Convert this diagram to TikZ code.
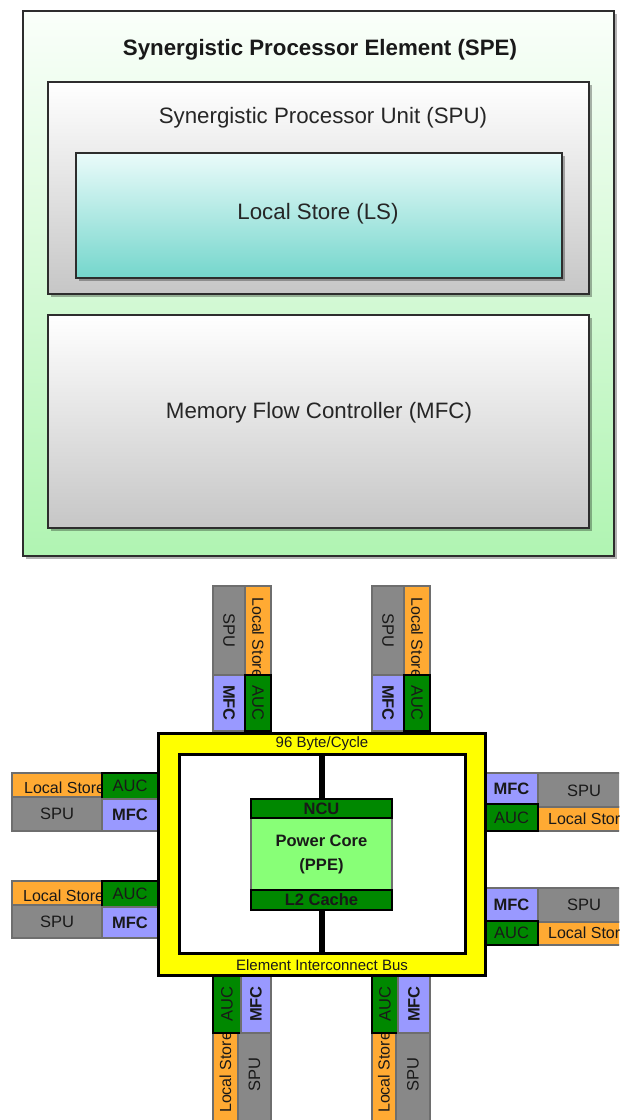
\documentclass[tikz,border=0pt]{standalone}
\usepackage{fontspec}
\setmainfont{Liberation Sans}
\usetikzlibrary{shadows}
\definecolor{cgray}{RGB}{136,136,136}
\definecolor{cgrayline}{RGB}{110,110,110}
\definecolor{corange}{RGB}{255,170,51}
\definecolor{clav}{RGB}{153,153,255}
\definecolor{cdkgreen}{RGB}{0,136,0}
\definecolor{cltgreen}{RGB}{136,255,119}
\definecolor{cyel}{RGB}{255,255,0}
\definecolor{spetop}{RGB}{250,255,250}
\definecolor{spebot}{RGB}{176,244,178}
\definecolor{spubot}{RGB}{198,198,198}
\definecolor{lstop}{RGB}{234,251,250}
\definecolor{lsbot}{RGB}{116,214,204}
\definecolor{bordr}{RGB}{45,45,45}
\newcommand{\cellbox}[6]{\node[#6, anchor=north west, inner sep=0pt, outer sep=0pt, minimum width={(#4-#2)*1pt}, minimum height={(#5-#3)*1pt}] (#1) at (#2,#3) {};}
\tikzset{
  shad/.style={drop shadow={shadow xshift=2.5pt, shadow yshift=-2.5pt, fill=black, opacity=0.3}},
  spebox/.style={draw=bordr, line width=1.4pt, top color=spetop, bottom color=spebot, shad},
  spubox/.style={draw=bordr, line width=1.4pt, top color=white, bottom color=spubot, shad},
  lsbox/.style={draw=bordr, line width=1.4pt, top color=lstop, bottom color=lsbot, shad},
  bigtxt/.style={font=\fontsize{22.3}{26}\selectfont, inner sep=0pt, text=black!85},
  bigbold/.style={font=\bfseries\fontsize{22.3}{26}\selectfont, inner sep=0pt, text=black!90},
  spucell/.style={draw=cgrayline, line width=1.5pt, fill=cgray},
  lscell/.style={draw=cgrayline, line width=1.5pt, fill=corange},
  mfccell/.style={draw=cgrayline, line width=1.5pt, fill=clav},
  auccell/.style={draw=black, line width=2pt, fill=cdkgreen},
  ncucell/.style={draw=black, line width=2.5pt, fill=cdkgreen},
  ppecell/.style={draw=cgrayline, line width=1.5pt, fill=cltgreen},
  modtxt/.style={font=\fontsize{16.5}{19}\selectfont, inner sep=0pt, text=black!90},
  modbold/.style={font=\bfseries\fontsize{16.5}{19}\selectfont, inner sep=0pt, text=black!90},
  lstxt/.style={font=\fontsize{16}{18}\selectfont, inner sep=0pt, text=black!90},
  bustxt/.style={font=\fontsize{15}{17}\selectfont, inner sep=0pt, text=black!90},
  bar/.style={line width=6pt, black}
}
\begin{document}
\begin{tikzpicture}[x=1pt,y=-1pt]
\useasboundingbox (0,0) rectangle (619,1120);
\clip (0,0) rectangle (619,1120);
\fill[white] (0,0) rectangle (619,1120);
% ---------- SPE ----------
\cellbox{spe}{23}{11}{614}{556}{spebox}
\node[bigbold] (spet) at (320,50) {Synergistic Processor Element (SPE)};
\cellbox{spu}{48}{82}{589}{294}{spubox}
\node[bigtxt] (sput) at (323,118) {Synergistic Processor Unit (SPU)};
\cellbox{ls}{76}{153}{562}{278}{lsbox}
\node[bigtxt] (lst) at (318,214) {Local Store (LS)};
\cellbox{mfc}{48}{315}{589}{528}{spubox}
\node[bigtxt] (mfct) at (319,413) {Memory Flow Controller (MFC)};
% ---------- top modules ----------
\cellbox{tspuA}{213}{586}{245}{675}{spucell}
\cellbox{tlsA}{245}{586}{271}{675}{lscell}
\node[modtxt, rotate=-90] (tspuAt) at (tspuA.center) {SPU};
\node[lstxt, rotate=-90, anchor=west] (tlsAt) at (258,597) {Local Store};
\cellbox{tmfcA}{213}{675}{245}{731}{mfccell}
\cellbox{taucA}{245}{675}{271}{731}{auccell}
\node[modbold, rotate=-90] (tmfcAt) at (tmfcA.center) {MFC};
\node[modtxt, rotate=-90] (taucAt) at (taucA.center) {AUC};
\cellbox{tspuB}{372}{586}{404}{675}{spucell}
\cellbox{tlsB}{404}{586}{430}{675}{lscell}
\node[modtxt, rotate=-90] (tspuBt) at (tspuB.center) {SPU};
\node[lstxt, rotate=-90, anchor=west] (tlsBt) at (417,597) {Local Store};
\cellbox{tmfcB}{372}{675}{404}{731}{mfccell}
\cellbox{taucB}{404}{675}{430}{731}{auccell}
\node[modbold, rotate=-90] (tmfcBt) at (tmfcB.center) {MFC};
\node[modtxt, rotate=-90] (taucBt) at (taucB.center) {AUC};
% ---------- bottom modules ----------
\cellbox{blsA}{213}{1033}{238}{1130}{lscell}
\cellbox{bspuA}{238}{1033}{271}{1130}{spucell}
\node[lstxt, rotate=90, anchor=west] (blsAt) at (225.5,1113) {Local Store};
\node[modtxt, rotate=90] (bspuAt) at (254.5,1075) {SPU};
\cellbox{baucA}{213}{975}{241}{1033}{auccell}
\cellbox{bmfcA}{241}{975}{271}{1033}{mfccell}
\node[modtxt, rotate=90] (baucAt) at (baucA.center) {AUC};
\node[modbold, rotate=90] (bmfcAt) at (bmfcA.center) {MFC};
\cellbox{blsB}{372}{1033}{396}{1130}{lscell}
\cellbox{bspuB}{396}{1033}{430}{1130}{spucell}
\node[lstxt, rotate=90, anchor=west] (blsBt) at (384,1113) {Local Store};
\node[modtxt, rotate=90] (bspuBt) at (413,1075) {SPU};
\cellbox{baucB}{372}{975}{398}{1033}{auccell}
\cellbox{bmfcB}{398}{975}{430}{1033}{mfccell}
\node[modtxt, rotate=90] (baucBt) at (baucB.center) {AUC};
\node[modbold, rotate=90] (bmfcBt) at (bmfcB.center) {MFC};
% ---------- left modules ----------
\cellbox{llsA}{12}{773}{102}{797}{lscell}
\cellbox{lspuA}{12}{797}{102}{831}{spucell}
\node[lstxt, anchor=west] (llsAt) at (24,788) {Local Store};
\node[modtxt] (lspuAt) at (lspuA.center) {SPU};
\cellbox{laucA}{102}{773}{158}{799}{auccell}
\cellbox{lmfcA}{102}{799}{158}{831}{mfccell}
\node[modtxt] (laucAt) at (laucA.center) {AUC};
\node[modbold] (lmfcAt) at (lmfcA.center) {MFC};
\cellbox{llsB}{12}{881}{102}{905}{lscell}
\cellbox{lspuB}{12}{905}{102}{938}{spucell}
\node[lstxt, anchor=west] (llsBt) at (23,896) {Local Store};
\node[modtxt] (lspuBt) at (lspuB.center) {SPU};
\cellbox{laucB}{102}{881}{158}{907}{auccell}
\cellbox{lmfcB}{102}{907}{158}{938}{mfccell}
\node[modtxt] (laucBt) at (laucB.center) {AUC};
\node[modbold] (lmfcBt) at (lmfcB.center) {MFC};
% ---------- right modules ----------
\cellbox{rspuA}{538}{773}{640}{807}{spucell}
\cellbox{rlsA}{538}{807}{640}{831}{lscell}
\node[modtxt] (rspuAt) at (584,791) {SPU};
\node[lstxt, anchor=west] (rlsAt) at (548,819) {Local Store};
\cellbox{rmfcA}{485}{773}{538}{804}{mfccell}
\cellbox{raucA}{485}{804}{538}{831}{auccell}
\node[modbold] (rmfcAt) at (rmfcA.center) {MFC};
\node[modtxt] (raucAt) at (raucA.center) {AUC};
\cellbox{rspuB}{538}{888}{640}{922}{spucell}
\cellbox{rlsB}{538}{922}{640}{945}{lscell}
\node[modtxt] (rspuBt) at (584,905) {SPU};
\node[lstxt, anchor=west] (rlsBt) at (548,933) {Local Store};
\cellbox{rmfcB}{485}{888}{538}{921}{mfccell}
\cellbox{raucB}{485}{921}{538}{945}{auccell}
\node[modbold] (rmfcBt) at (rmfcB.center) {MFC};
\node[modtxt] (raucBt) at (raucB.center) {AUC};
% ---------- EIB ----------
\cellbox{eib}{158}{733}{485}{975}{draw=black, line width=3pt, fill=cyel}
\cellbox{inner}{179}{754}{465}{953}{draw=black, line width=3pt, fill=white}
\node[bustxt] (byt) at (322,744) {96 Byte/Cycle};
\node[bustxt] (eibt) at (322,965) {Element Interconnect Bus};
\cellbox{ppe}{251}{818}{392}{890}{ppecell}
\cellbox{ncu}{251}{799}{392}{818}{ncucell}
\cellbox{ltwo}{251}{890}{392}{910}{ncucell}
\node[modbold] (ncut) at (ncu.center) {NCU};
\node[modbold, font=\bfseries\fontsize{16.5}{24}\selectfont, align=center] (ppet) at (ppe.center) {Power Core\\(PPE)};
\node[modbold] (ltwot) at (ltwo.center) {L2 Cache};
\draw[bar] (ncu.north) -- (ncu.north |- inner.north);
\draw[bar] (ltwo.south) -- (ltwo.south |- inner.south);
\end{tikzpicture}
\end{document}
